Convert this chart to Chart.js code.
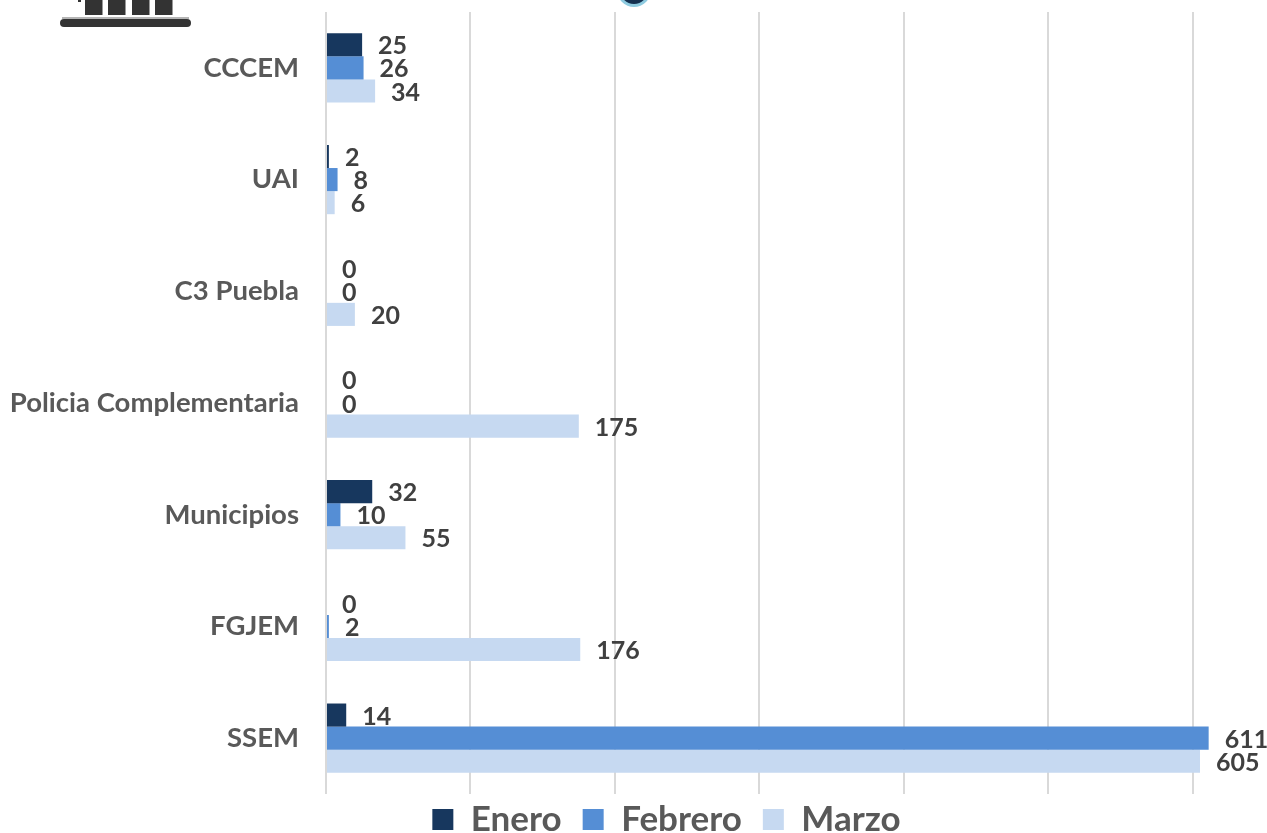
<!DOCTYPE html>
<html><head><meta charset="utf-8">
<style>html,body{margin:0;padding:0;background:#fff}canvas{display:block}#w{width:1267px;height:833px;position:relative;overflow:hidden}</style>
<script src="https://cdn.jsdelivr.net/npm/chart.js@4/dist/chart.umd.min.js"></script>
</head><body><div id="w"><canvas id="c" width="1267" height="833"></canvas></div>
<script>
const categories = ["CCCEM","UAI","C3 Puebla","Policia Complementaria","Municipios","FGJEM","SSEM"];
const enero = [25,2,0,0,32,0,14];
const febrero = [26,8,0,0,10,2,611];
const marzo = [34,6,20,175,55,176,605];
const FONT = "Lato, 'Open Sans', sans-serif";

const valueLabels = {
  id:'valueLabels',
  afterDatasetsDraw(chart){
    const ctx = chart.ctx;
    ctx.save();
    ctx.font = "bold 25px "+FONT;
    ctx.fillStyle = "#404040";
    ctx.textBaseline = "middle";
    chart.data.datasets.forEach((ds,i)=>{
      chart.getDatasetMeta(i).data.forEach((bar,j)=>{
        ctx.fillText(String(ds.data[j]), bar.x+16, bar.y+1.5);
      });
    });
    ctx.restore();
  }
};
const decoration = {
  id:'decoration',
  beforeDraw(chart){
    const ctx = chart.ctx;
    ctx.save();
    ctx.fillStyle = "#333333";
    [85,108,132,155].forEach(x=>ctx.fillRect(x,0,17.5,15));
    ctx.fillRect(78,0,3,2);
    ctx.fillStyle = "#b5b5b5";
    ctx.fillRect(62,17,127,2);
    ctx.fillStyle = "#333333";
    ctx.beginPath();
    ctx.roundRect(60,19,131,8,4);
    ctx.fill();
    ctx.fillStyle = "#8ecbe0";
    ctx.beginPath(); ctx.arc(634,-10,17,0,Math.PI*2); ctx.fill();
    ctx.fillStyle = "#14304f";
    ctx.beginPath(); ctx.arc(634,-10,14,0,Math.PI*2); ctx.fill();
    ctx.restore();
  }
};
const legendShift = {
  id:'legendShift',
  afterLayout(chart){
    const l = chart.legend;
    l.left += 34; l.right += 34;
    l.top -= 13; l.bottom -= 13;
  }
};

new Chart(document.getElementById('c'),{
  type:'bar',
  data:{labels:categories,datasets:[
    {label:"Enero",data:enero,backgroundColor:"#17375e"},
    {label:"Febrero",data:febrero,backgroundColor:"#558ed5"},
    {label:"Marzo",data:marzo,backgroundColor:"#c6d9f1"}
  ]},
  options:{
    indexAxis:'y',
    responsive:false,
    animation:false,
    categoryPercentage:0.62,
    barPercentage:1,
    layout:{autoPadding:false,padding:{top:12,right:2,bottom:-27,left:0}},
    scales:{
      x:{min:0,max:650,
        ticks:{stepSize:100,display:false,includeBounds:false},
        grid:{color:"#d9d9d9",lineWidth:2,drawTicks:false},
        border:{display:false}
      },
      y:{
        afterFit(s){ s.width = 326; s.paddingTop = 0; s.paddingBottom = 0; },
        ticks:{color:"#595959",font:{family:FONT,size:27.5,weight:"bold"},padding:0},
        grid:{display:false,drawTicks:true,tickLength:27,tickColor:"rgba(0,0,0,0)"},
        border:{display:false}
      }
    },
    plugins:{
      tooltip:{enabled:false},
      legend:{position:'bottom',
        labels:{color:"#595959",boxWidth:21,boxHeight:21,padding:21,font:{family:FONT,size:35,weight:"bold"}}
      }
    }
  },
  plugins:[decoration,valueLabels,legendShift]
});
</script></body></html>
